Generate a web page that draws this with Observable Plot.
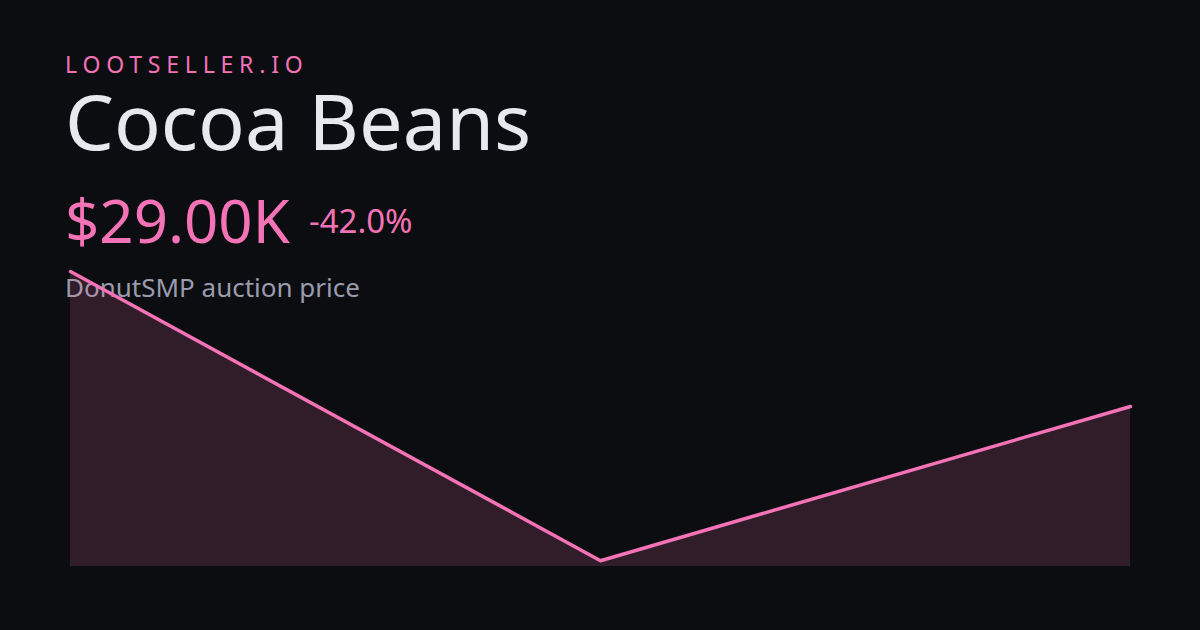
<!DOCTYPE html>
<html><head><meta charset="utf-8">
<script src="https://cdn.jsdelivr.net/npm/d3@7"></script>
<script src="https://cdn.jsdelivr.net/npm/@observablehq/plot@0.6"></script>
<style>
html,body{margin:0;padding:0;background:#0c0d10;}
#wrap{position:relative;width:1200px;height:630px;overflow:hidden;background:#0c0d10;font-family:"Noto Sans",sans-serif;}
.t{position:absolute;left:65px;white-space:nowrap;line-height:1;}
#brand{top:52.5px;font-size:23px;letter-spacing:5.8px;color:#f472b6;}
#title{top:82px;font-size:77.5px;color:#e8e9ee;}
#price{top:190px;font-size:60px;color:#f472b6;}
#change{position:absolute;left:309px;top:204px;font-size:33px;color:#f472b6;line-height:1;white-space:nowrap;}
#sub{top:274px;font-size:26px;color:#9a9cad;}
#chart{position:absolute;left:0;top:0;}
</style></head>
<body><div id="wrap">
<div class="t" id="brand">LOOTSELLER.IO</div>
<div class="t" id="title">Cocoa Beans</div>
<div class="t" id="price">$29.00K</div>
<div id="change">-42.0%</div>
<div class="t" id="sub">DonutSMP auction price</div>
<div id="chart"></div>
</div>
<script>
const steps = [0, 1, 2];
const prices = [50000, 5000, 29000];
const data = steps.map((s, i) => ({s, p: prices[i]}));
const lo = d3.min(prices), hi = d3.max(prices);
const yMin = lo - (hi - lo) * 0.02;
const chart = Plot.plot({
  width: 1200, height: 630,
  marginLeft: 70, marginRight: 70, marginTop: 271, marginBottom: 64,
  style: {background: "transparent", overflow: "visible"},
  x: {domain: [0, 2], axis: null},
  y: {domain: [yMin, hi], axis: null},
  marks: [
    Plot.areaY(data, {x: "s", y1: yMin, y2: "p", fill: "#f472b6", fillOpacity: 0.16}),
    Plot.lineY(data, {x: "s", y: "p", stroke: "#f472b6", strokeWidth: 3.5, strokeLinejoin: "miter"})
  ]
});
document.getElementById("chart").append(chart);
</script>
</body></html>
